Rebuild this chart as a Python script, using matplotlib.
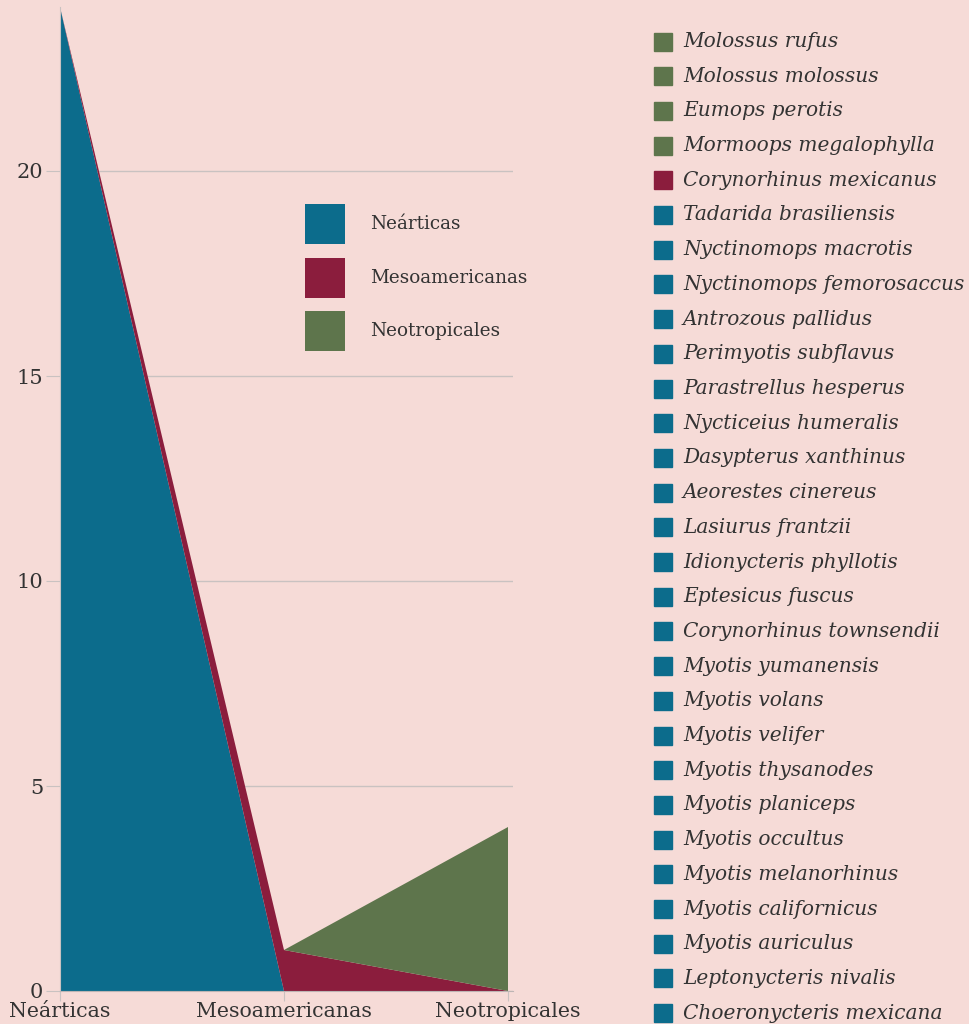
import matplotlib.pyplot as plt
from matplotlib.patches import Rectangle

# Regions and the number of bat species assigned to each
regions = ['Neárticas', 'Mesoamericanas', 'Neotropicales']
nearticas = [24, 0, 0]
mesoamericanas = [0, 1, 0]
neotropicales = [0, 0, 4]

species = [
    'Molossus rufus', 'Molossus molossus', 'Eumops perotis', 'Mormoops megalophylla',
    'Corynorhinus mexicanus', 'Tadarida brasiliensis', 'Nyctinomops macrotis',
    'Nyctinomops femorosaccus', 'Antrozous pallidus', 'Perimyotis subflavus',
    'Parastrellus hesperus', 'Nycticeius humeralis', 'Dasypterus xanthinus',
    'Aeorestes cinereus', 'Lasiurus frantzii', 'Idionycteris phyllotis',
    'Eptesicus fuscus', 'Corynorhinus townsendii', 'Myotis yumanensis',
    'Myotis volans', 'Myotis velifer', 'Myotis thysanodes', 'Myotis planiceps',
    'Myotis occultus', 'Myotis melanorhinus', 'Myotis californicus',
    'Myotis auriculus', 'Leptonycteris nivalis', 'Choeronycteris mexicana',
]
species_region = ['Neotropicales'] * 4 + ['Mesoamericanas'] + ['Neárticas'] * 24

colors = {'Neárticas': '#0c6c8c', 'Mesoamericanas': '#8b1d3d', 'Neotropicales': '#5e754c'}
bg = '#f6dbd7'
text_col = '#333333'
grid_col = '#c9c2c1'

plt.rcParams['font.family'] = ['DejaVu Serif']

W, H = 969, 1024
fig = plt.figure(figsize=(W / 100, H / 100), dpi=100, facecolor=bg)
ax = fig.add_axes([60 / W, 1 - 991 / H, (513 - 60) / W, 984 / H], facecolor=bg)

x = list(range(len(regions)))
ax.stackplot(x, nearticas, mesoamericanas, neotropicales,
             colors=[colors[r] for r in regions], labels=regions,
             linewidth=0, zorder=2)

ax.set_xlim(0, 2 + 5 / 224)
ax.set_ylim(0, 24)
ax.set_yticks([0, 5, 10, 15, 20])
ax.set_xticks(x)
ax.set_xticklabels(regions)
ax.grid(axis='y', color=grid_col, linewidth=1, zorder=1)
for s in ['top', 'right']:
    ax.spines[s].set_visible(False)
ax.spines['left'].set_color(grid_col)
ax.spines['bottom'].set_color('#bdb5b4')
ax.spines['bottom'].set_zorder(3)
ax.tick_params(axis='y', length=10, color=grid_col, labelsize=15, labelcolor=text_col, pad=2)
ax.tick_params(axis='x', length=7, color=grid_col, labelsize=14.8, labelcolor=text_col, pad=1)

# square 40 px handles: f * (0.65 * h + 0.245) = 40 px
fs = 13.2
fpx = fs * 100 / 72
hh = (40 / fpx - 0.245) / 0.65
leg = ax.legend(loc='upper left', bbox_to_anchor=(305 / W, 1 - 204 / H),
                bbox_transform=fig.transFigure, frameon=False, fontsize=fs,
                handlelength=40 / fpx, handleheight=hh, handletextpad=25 / fpx,
                labelspacing=13.5 / fpx, borderpad=0, borderaxespad=0,
                labelcolor=text_col)

# Species list, each with the colour of its region
top, step = 41.5, 34.7
for i, (name, reg) in enumerate(zip(species, species_region)):
    yc = top + i * step
    fig.patches.append(Rectangle((654 / W, 1 - (yc + 9) / H), 18 / W, 18 / H,
                                 transform=fig.transFigure, color=colors[reg]))
    fig.text(683 / W, 1 - yc / H, name, style='italic', fontsize=14.5,
             color=text_col, va='center', ha='left')

fig.savefig('out.png', dpi=100, facecolor=bg)
